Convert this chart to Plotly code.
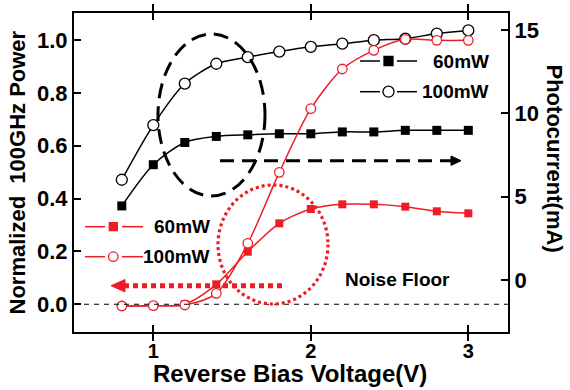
import plotly.graph_objects as go

# ---------------- data ----------------
voltage = [0.8, 1.0, 1.2, 1.4, 1.6, 1.8, 2.0, 2.2, 2.4, 2.6, 2.8, 3.0]
power_60mw = [0.372, 0.528, 0.612, 0.635, 0.641, 0.645, 0.645, 0.652, 0.652, 0.658, 0.658, 0.658]
power_100mw = [0.471, 0.678, 0.835, 0.910, 0.935, 0.956, 0.974, 0.986, 0.999, 1.005, 1.024, 1.036]
current_60mw = [-1.56, -1.54, -1.45, -0.26, 1.70, 3.40, 4.26, 4.54, 4.54, 4.40, 4.12, 4.00]
current_100mw = [-1.56, -1.54, -1.50, -0.80, 2.20, 6.46, 10.28, 12.66, 13.78, 14.44, 14.38, 14.38]
x_ticks = [1, 2, 3]
y_ticks = [0.0, 0.2, 0.4, 0.6, 0.8, 1.0]
y_tick_text = ["0.0", "0.2", "0.4", "0.6", "0.8", "1.0"]
y2_ticks = [0, 5, 10, 15]
legend_labels = ["60mW", "100mW"]
noise_floor = 0.0

# ---------------- layout constants ----------------
W, H = 570, 390
L, R, T, B = 74, 508, 13, 332
XR = [0.4965, 3.252]
YR = [-0.105, 1.102]
Y2R = [-3.12, 16.02]
RED = "#EE1C25"
FONT = "Liberation Sans, Arial, sans-serif"


def px(x):
    return (x - L) / (R - L)


def py(y):
    return (B - y) / (B - T)


def dx(x):
    return XR[0] + (x - L) / (R - L) * (XR[1] - XR[0])


def dy(y):
    return YR[0] + (B - y) / (B - T) * (YR[1] - YR[0])


fig = go.Figure()

# red (photocurrent, right axis)
fig.add_trace(go.Scatter(x=voltage, y=current_60mw, yaxis="y2", mode="lines+markers",
                         line=dict(color=RED, width=1.5, shape="spline", smoothing=0.8),
                         marker=dict(symbol="square", size=8, color=RED),
                         showlegend=False))
fig.add_trace(go.Scatter(x=voltage, y=current_100mw, yaxis="y2", mode="lines+markers",
                         line=dict(color=RED, width=1.5, shape="spline", smoothing=0.8),
                         marker=dict(symbol="circle", size=9.5, color="white",
                                     line=dict(color=RED, width=1.3)),
                         showlegend=False))
# black (normalized power, left axis)
fig.add_trace(go.Scatter(x=voltage, y=power_60mw, mode="lines+markers",
                         line=dict(color="black", width=1.5, shape="spline", smoothing=0.8),
                         marker=dict(symbol="square", size=9, color="black"),
                         showlegend=False))
fig.add_trace(go.Scatter(x=voltage, y=power_100mw, mode="lines+markers",
                         line=dict(color="black", width=1.5, shape="spline", smoothing=0.8),
                         marker=dict(symbol="circle", size=11, color="white",
                                     line=dict(color="black", width=1.3)),
                         showlegend=False))

shapes = []
annotations = []

# noise floor dashed line
shapes.append(dict(type="line", xref="paper", yref="y", x0=0, x1=1, y0=noise_floor, y1=noise_floor,
                   line=dict(color="black", width=1.2, dash="5px,5px")))

# black dashed ellipse
shapes.append(dict(type="circle", xref="paper", yref="paper",
                   x0=px(158), x1=px(265), y0=py(196), y1=py(34),
                   line=dict(color="black", width=3, dash="15px,8px")))
# red dotted circle
shapes.append(dict(type="circle", xref="paper", yref="paper",
                   x0=px(218), x1=px(328), y0=py(304), y1=py(185),
                   line=dict(color=RED, width=3.2, dash="3px,3px")))

# black dashed arrow (to the right)
shapes.append(dict(type="line", xref="paper", yref="paper",
                   x0=px(220), x1=px(451), y0=py(160.7), y1=py(160.7),
                   line=dict(color="black", width=3, dash="14px,8px")))
shapes.append(dict(type="path", xref="paper", yref="paper",
                   path=f"M{px(451)},{py(156)} L{px(461)},{py(160.7)} L{px(451)},{py(165.4)} Z",
                   fillcolor="black", line=dict(color="black", width=1)))

# red dotted arrow (to the left)
shapes.append(dict(type="line", xref="paper", yref="paper",
                   x0=px(124), x1=px(284), y0=py(285.7), y1=py(285.7),
                   line=dict(color=RED, width=5, dash="5px,4px")))
shapes.append(dict(type="path", xref="paper", yref="paper",
                   path=f"M{px(125)},{py(279.5)} L{px(111)},{py(285.7)} L{px(125)},{py(291.9)} Z",
                   fillcolor=RED, line=dict(color=RED, width=1)))

# legend samples (manual)
def legend_sample(xa, xb, xm, xc, xd, y, color, symbol, size, fill):
    shapes.append(dict(type="line", xref="paper", yref="paper", x0=px(xa), x1=px(xb),
                       y0=py(y), y1=py(y), line=dict(color=color, width=1.5)))
    shapes.append(dict(type="line", xref="paper", yref="paper", x0=px(xc), x1=px(xd),
                       y0=py(y), y1=py(y), line=dict(color=color, width=1.5)))
    fig.add_trace(go.Scatter(x=[dx(xm)], y=[dy(y)], mode="markers", showlegend=False,
                             hoverinfo="skip",
                             marker=dict(symbol=symbol, size=size, color=fill,
                                         line=dict(color=color, width=1.3))))


legend_sample(360, 380, 388.5, 397, 417, 61, "black", "square", 9, "black")
legend_sample(360, 380, 388.5, 397, 417, 91.7, "black", "circle", 11, "white")
legend_sample(85, 105, 113.3, 122, 143, 226.7, RED, "square", 8, RED)
legend_sample(85, 105, 113.3, 122, 143, 256.7, RED, "circle", 9.5, "white")

for lab, yy in zip(legend_labels, [61, 91.7]):
    annotations.append(dict(text=lab, xref="paper", yref="paper", x=px(491), y=py(yy),
                            xanchor="right", yanchor="middle", showarrow=False,
                            font=dict(family=FONT, size=19, color="black", weight="bold")))
for lab, yy in zip(legend_labels, [226.7, 256.7]):
    annotations.append(dict(text=lab, xref="paper", yref="paper", x=px(212), y=py(yy),
                            xanchor="right", yanchor="middle", showarrow=False,
                            font=dict(family=FONT, size=19, color="black", weight="bold")))

annotations.append(dict(text="Noise Floor", xref="paper", yref="paper", x=px(397), y=py(279.5),
                        xanchor="center", yanchor="middle", showarrow=False,
                        font=dict(family=FONT, size=19, color="black", weight="bold")))

# axis titles
annotations.append(dict(text="Reverse Bias Voltage(V)", xref="paper", yref="paper",
                        x=px(290), y=py(373), xanchor="center", yanchor="middle", showarrow=False,
                        font=dict(family=FONT, size=24, color="black", weight="bold")))
annotations.append(dict(text="Normalized\u00a0 100GHz Power", xref="paper", yref="paper",
                        x=px(17.5), y=py(173), xanchor="center", yanchor="middle", showarrow=False,
                        textangle=-90,
                        font=dict(family=FONT, size=22, color="black", weight="bold")))
annotations.append(dict(text="Photocurrent(mA)", xref="paper", yref="paper",
                        x=px(554), y=py(158.5), xanchor="center", yanchor="middle", showarrow=False,
                        textangle=90,
                        font=dict(family=FONT, size=22, color="black", weight="bold")))

tickfont = dict(family=FONT, size=22, color="black", weight="bold")
xtickfont = dict(family=FONT, size=20, color="black", weight="bold")

fig.update_layout(
    width=W, height=H,
    margin=dict(l=L, r=W - R, t=T, b=H - B, pad=0),
    paper_bgcolor="white", plot_bgcolor="white",
    xaxis=dict(range=XR, tickvals=x_ticks, ticktext=[str(v) for v in x_ticks],
               ticks="inside", ticklen=7, tickwidth=2, tickcolor="black",
               showline=True, linewidth=2, linecolor="black", mirror="allticks",
               showgrid=False, zeroline=False, tickfont=xtickfont),
    yaxis=dict(range=YR, tickvals=y_ticks, ticktext=y_tick_text,
               ticks="inside", ticklen=7, tickwidth=2, tickcolor="black",
               showline=True, linewidth=2, linecolor="black", mirror=False,
               showgrid=False, zeroline=False, tickfont=tickfont),
    yaxis2=dict(range=Y2R, tickvals=y2_ticks, overlaying="y", side="right",
                ticks="inside", ticklen=7, tickwidth=2, tickcolor="black",
                showline=True, linewidth=2, linecolor="black",
                showgrid=False, zeroline=False, tickfont=tickfont),
    shapes=shapes,
    annotations=annotations,
    showlegend=False,
)

fig.write_html("out.html", config={"displayModeBar": False},
               post_script="document.body.style.margin='0';document.body.style.overflow='hidden';")
